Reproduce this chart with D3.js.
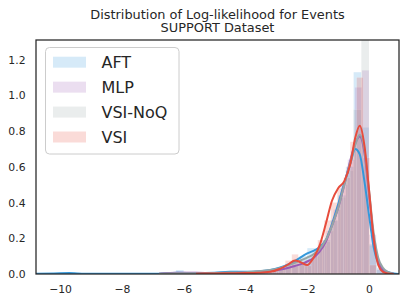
<!DOCTYPE html>
<html>
<head>
<meta charset="utf-8">
<script src="https://cdn.jsdelivr.net/npm/d3@7"></script>
<style>
  html, body { margin: 0; padding: 0; background: #fff; }
  svg { display: block; font-family: "DejaVu Sans", sans-serif; }
</style>
</head>
<body>
<svg id="chart" width="407" height="304"></svg>
<script>
// ---------------- data ----------------
const seriesNames = ["AFT", "MLP", "VSI-NoQ", "VSI"];
const xTicks = [-10, -8, -6, -4, -2, 0];
const yTicks = [0, 0.2, 0.4, 0.6, 0.8, 1.0, 1.2];
const titleLines = ["Distribution of Log-likelihood for Events", "SUPPORT Dataset"];

// histogram bins: first bin start, bin width, density per bin
const aftBinStart = -10.0, aftBinWidth = 0.25;
const aftHist = [0, 0.01, 0, 0, 0, 0, 0, 0, 0, 0, 0, 0, 0, 0, 0, 0.022, 0.004, 0, 0.004, 0.008,
  0.008, 0.012, 0.018, 0.016, 0.008, 0.012, 0.016, 0.02, 0.03, 0.05, 0.07, 0.1, 0.145, 0.14,
  0.19, 0.3, 0.44, 0.6, 1.13, 0.82, 0.16, 0.035, 0.008];
const mlpBinStart = -6.21, mlpBinWidth = 0.23;
const mlpHist = [0.01, 0.008, 0.006, 0.006, 0.004, 0.004, 0.006, 0.004, 0.008, 0.01, 0.008, 0.014,
  0.016, 0.022, 0.03, 0.04, 0.05, 0.06, 0.075, 0.1, 0.16, 0.24, 0.36, 0.5, 0.64, 1.045, 1.14, 0.22, 0.025];
const noqBinStart = -4.5, noqBinWidth = 0.25;
const noqHist = [0.01, 0.006, 0.008, 0.012, 0.016, 0.022, 0.032, 0.05, 0.065, 0.085, 0.1, 0.13,
  0.18, 0.3, 0.43, 0.58, 0.92, 1.6, 0.17, 0.025];
const vsiBinStart = -4.39, vsiBinWidth = 0.21;
const vsiHist = [0.004, 0.006, 0.004, 0.006, 0.008, 0.012, 0.02, 0.04, 0.075, 0.11, 0.06, 0.045,
  0.1, 0.19, 0.3, 0.4, 0.48, 0.54, 0.74, 1.10, 0.65, 0.05];

// KDE curves sampled on a common grid (null = outside the curve's support)
const kdeX = [-10.8, -10.2, -9.7, -9.2, -8.5, -7.5, -6.8, -6.2, -5.6, -5.0, -4.5, -4.0, -3.6, -3.2,
  -2.9, -2.6, -2.4, -2.2, -2.0, -1.8, -1.6, -1.4, -1.2, -1.0, -0.8, -0.6, -0.45, -0.3, -0.15, 0,
  0.15, 0.3, 0.45, 0.6, 0.8, 1.0];
const aftKde = [0.001, 0.003, 0.005, 0.002, 0.001, 0.001, 0.002, 0.007, 0.005, 0.007, 0.012, 0.012,
  0.014, 0.022, 0.035, 0.055, 0.072, 0.095, 0.115, 0.13, 0.15, 0.19, 0.28, 0.39, 0.51, 0.62, 0.70,
  0.67, 0.52, 0.33, 0.15, 0.06, 0.025, 0.012, 0.003, 0];
const mlpKde = [null, null, null, null, null, null, 0.002, 0.007, 0.007, 0.005, 0.006, 0.008, 0.012,
  0.016, 0.024, 0.035, 0.045, 0.055, 0.07, 0.09, 0.125, 0.18, 0.27, 0.37, 0.5, 0.64, 0.73, 0.77,
  0.68, 0.45, 0.2, 0.07, 0.02, 0.005, 0.001, null];
const noqKde = [null, null, null, null, null, null, 0.002, 0.004, 0.004, 0.005, 0.008, 0.01, 0.015,
  0.022, 0.033, 0.05, 0.062, 0.077, 0.092, 0.11, 0.14, 0.19, 0.27, 0.37, 0.5, 0.63, 0.72, 0.78,
  0.70, 0.47, 0.23, 0.09, 0.035, 0.012, 0.002, null];
const vsiKde = [null, null, null, null, null, null, null, null, 0.002, 0.003, 0.004, 0.005, 0.007,
  0.012, 0.028, 0.055, 0.076, 0.065, 0.05, 0.09, 0.16, 0.28, 0.41, 0.48, 0.52, 0.62, 0.76, 0.83,
  0.72, 0.47, 0.2, 0.05, 0.012, 0.003, 0, null];

// ---------------- styling ----------------
const colors = ["#3498db", "#9b59b6", "#95a5a6", "#e74c3c"];
const histAlpha = 0.2;
const textColor = "#262626";

const series = [
  { name: seriesNames[0], start: aftBinStart, width: aftBinWidth, hist: aftHist, kde: aftKde },
  { name: seriesNames[1], start: mlpBinStart, width: mlpBinWidth, hist: mlpHist, kde: mlpKde },
  { name: seriesNames[2], start: noqBinStart, width: noqBinWidth, hist: noqHist, kde: noqKde },
  { name: seriesNames[3], start: vsiBinStart, width: vsiBinWidth, hist: vsiHist, kde: vsiKde }
];

const margin = { left: 36, right: 8, top: 40, bottom: 30 };
const W = 407, H = 304;
const svg = d3.select("#chart");

const x = d3.scaleLinear().domain([-10.78, 0.97]).range([margin.left, W - margin.right]);
const y = d3.scaleLinear().domain([0, 1.31]).range([H - margin.bottom, margin.top]);

svg.append("defs").append("clipPath").attr("id", "plotclip")
  .append("rect")
  .attr("x", x.range()[0]).attr("y", y.range()[1])
  .attr("width", x.range()[1] - x.range()[0])
  .attr("height", y.range()[0] - y.range()[1]);

const plot = svg.append("g").attr("clip-path", "url(#plotclip)");

// histogram bars
series.forEach((s, si) => {
  const bins = s.hist.map((h, i) => ({ x0: s.start + i * s.width, x1: s.start + (i + 1) * s.width, h }))
    .filter(b => b.h > 0);
  plot.append("g").selectAll("rect").data(bins).join("rect")
    .attr("x", b => x(b.x0))
    .attr("width", b => x(b.x1) - x(b.x0))
    .attr("y", b => y(b.h))
    .attr("height", b => y(0) - y(b.h))
    .attr("fill", colors[si])
    .attr("fill-opacity", histAlpha)
    .attr("stroke", "#fff")
    .attr("stroke-opacity", histAlpha)
    .attr("stroke-width", 0.6);
});

// KDE lines
const line = d3.line()
  .defined(d => d[1] !== null)
  .x(d => x(d[0]))
  .y(d => y(d[1]))
  .curve(d3.curveMonotoneX);

series.forEach((s, si) => {
  const pts = kdeX.map((xv, i) => [xv, s.kde[i]]);
  plot.append("path")
    .datum(pts)
    .attr("d", line)
    .attr("fill", "none")
    .attr("stroke", colors[si])
    .attr("stroke-width", 2)
    .attr("stroke-linejoin", "round");
});

// axes (no tick marks)
const xAxis = svg.append("g")
  .attr("transform", `translate(0,${y(0)})`)
  .call(d3.axisBottom(x).tickValues(xTicks).tickSize(0).tickPadding(11).tickFormat(d3.format("d")));
const yAxis = svg.append("g")
  .attr("transform", `translate(${x.range()[0]},0)`)
  .call(d3.axisLeft(y).tickValues(yTicks).tickSize(0).tickPadding(10.5).tickFormat(d3.format(".1f")));
[xAxis, yAxis].forEach(a => {
  a.select(".domain").remove();
  a.selectAll("text").attr("fill", textColor).style("font-size", "10.8px")
    .style("font-family", "DejaVu Sans");
});

// frame
svg.append("rect")
  .attr("x", x.range()[0]).attr("y", y.range()[1])
  .attr("width", x.range()[1] - x.range()[0])
  .attr("height", y.range()[0] - y.range()[1])
  .attr("fill", "none")
  .attr("stroke", textColor)
  .attr("stroke-width", 1.25);

// title
const cx = (x.range()[0] + x.range()[1]) / 2;
svg.append("g").selectAll("text").data(titleLines).join("text")
  .attr("x", cx)
  .attr("y", (d, i) => 18.5 + i * 13.5)
  .attr("text-anchor", "middle")
  .attr("fill", textColor)
  .style("font-size", "12.9px")
  .text(d => d);

// legend
const lg = svg.append("g");
lg.append("rect")
  .attr("x", 45.5).attr("y", 47.5).attr("width", 133.5).attr("height", 106.5)
  .attr("rx", 4).attr("ry", 4)
  .attr("fill", "#fff").attr("fill-opacity", 0.8)
  .attr("stroke", "#cccccc").attr("stroke-width", 1);
const rowY = d3.scaleLinear().domain([0, 3]).range([62.2, 137]);
seriesNames.forEach((n, i) => {
  lg.append("rect")
    .attr("x", 53).attr("y", rowY(i) - 5.5).attr("width", 33).attr("height", 11)
    .attr("fill", colors[i]).attr("fill-opacity", histAlpha);
  lg.append("text")
    .attr("x", 101.5).attr("y", rowY(i) + 5.8)
    .attr("fill", textColor)
    .style("font-size", "16px")
    .text(n);
});
</script>
</body>
</html>
